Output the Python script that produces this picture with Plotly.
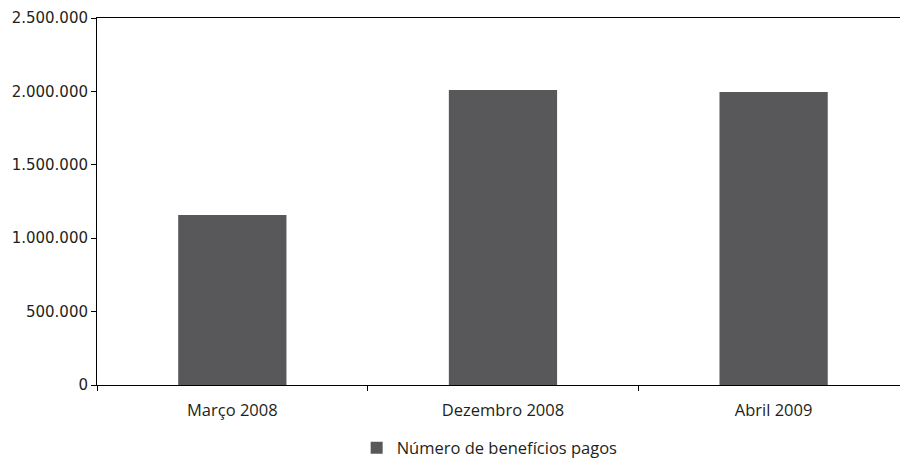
import plotly.graph_objects as go

categories = ["Março 2008", "Dezembro 2008", "Abril 2009"]
values = [1158000, 2009000, 1996000]
series_name = "Número de benefícios pagos"
y_ticks = [0, 500000, 1000000, 1500000, 2000000, 2500000]

fig = go.Figure()
fig.add_trace(go.Bar(
    x=categories, y=values, name=series_name,
    marker=dict(color="#58585a", line=dict(width=0)),
    width=0.40, showlegend=True,
))

fig.update_layout(
    width=900, height=460,
    margin=dict(l=97, r=0, t=18, b=75, autoexpand=False),
    paper_bgcolor="white", plot_bgcolor="white",
    separators=",.",
    font=dict(family="DejaVu Sans", size=14, color="#231f20"),
    showlegend=True,
    legend=dict(orientation="h", x=0.489, xanchor="center",
                yref="container", y=0.064, yanchor="top",
                font=dict(family="Open Sans", size=16.5, color="#231f20"),
                itemwidth=30),
    bargap=0.6,
)
fig.update_xaxes(
    type="category", range=[-0.5, 2.467],
    showline=True, linecolor="#000", linewidth=1, mirror=True,
    ticks="outside", ticklen=5, tickcolor="#000", tickson="boundaries",
    ticklabelstandoff=10, automargin=False,
    showgrid=False, tickfont=dict(family="Open Sans", size=16.5, color="#231f20"),
)
fig.update_yaxes(
    range=[0, 2500000], tickvals=y_ticks, tickformat=",d",
    showline=True, linecolor="#000", linewidth=1,
    ticks="outside", ticklen=5, tickcolor="#000", automargin=False,
    showgrid=False, zeroline=False,
    tickfont=dict(family="DejaVu Sans", size=15, color="#231f20"),
)
fig.write_html("out.html", config={"displayModeBar": False},
               post_script="document.body.style.margin='0';")
